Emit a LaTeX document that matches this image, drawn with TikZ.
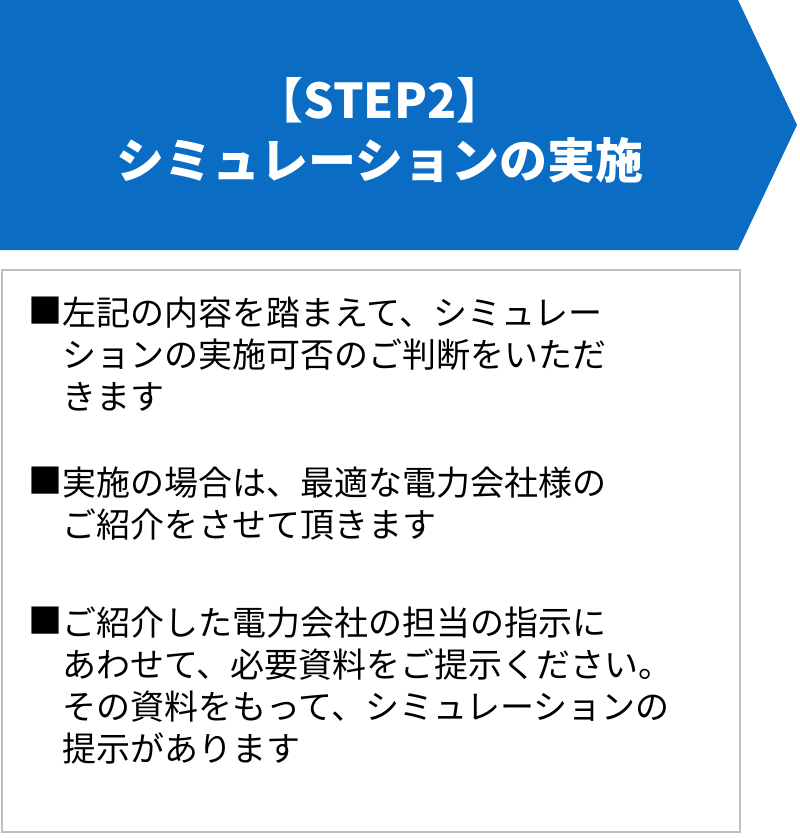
\documentclass[tikz,border=0pt]{standalone}
\usepackage{fontspec}
\setmainfont{Noto Sans CJK JP}
\usetikzlibrary{positioning}
\definecolor{stepblue}{HTML}{0A6CC2}
\definecolor{boxgray}{HTML}{BFBFBF}
\begin{document}
\begin{tikzpicture}[x=1pt,y=-1pt,
    bullet/.style={anchor=north west, inner sep=0pt, font=\fontsize{34}{42}\selectfont},
    body/.style={anchor=north west, inner sep=0pt, align=left, font=\fontsize{34}{42}\selectfont},
    title/.style={text=white, font=\bfseries\fontsize{48}{60}\selectfont, align=center}
  ]
  \useasboundingbox (0,0) rectangle (800,838);
  % banner
  \fill[stepblue] (0,0) -- (738,0) -- (797,125) -- (738,250) -- (0,250) -- cycle;
  \node[title] (head) at (380,130) {【STEP2】\\シミュレーションの実施};
  % box
  \draw[boxgray, line width=1.2pt] (2,270) rectangle (740,832);
  \node[bullet] (m1) at (28,297) {■};
  \node[body, right=0pt of m1.north east, anchor=north west] (t1)
    {左記の内容を踏まえて、シミュレー\\ションの実施可否のご判断をいただ\\きます};
  \node[bullet] (m2) at (28,467) {■};
  \node[body, right=0pt of m2.north east, anchor=north west] (t2)
    {実施の場合は、最適な電力会社様の\\ご紹介をさせて頂きます};
  \node[bullet] (m3) at (28,607) {■};
  \node[body, right=0pt of m3.north east, anchor=north west] (t3)
    {ご紹介した電力会社の担当の指示に\\あわせて、必要資料をご提示ください。\\その資料をもって、シミュレーションの\\提示があります};
\end{tikzpicture}
\end{document}
